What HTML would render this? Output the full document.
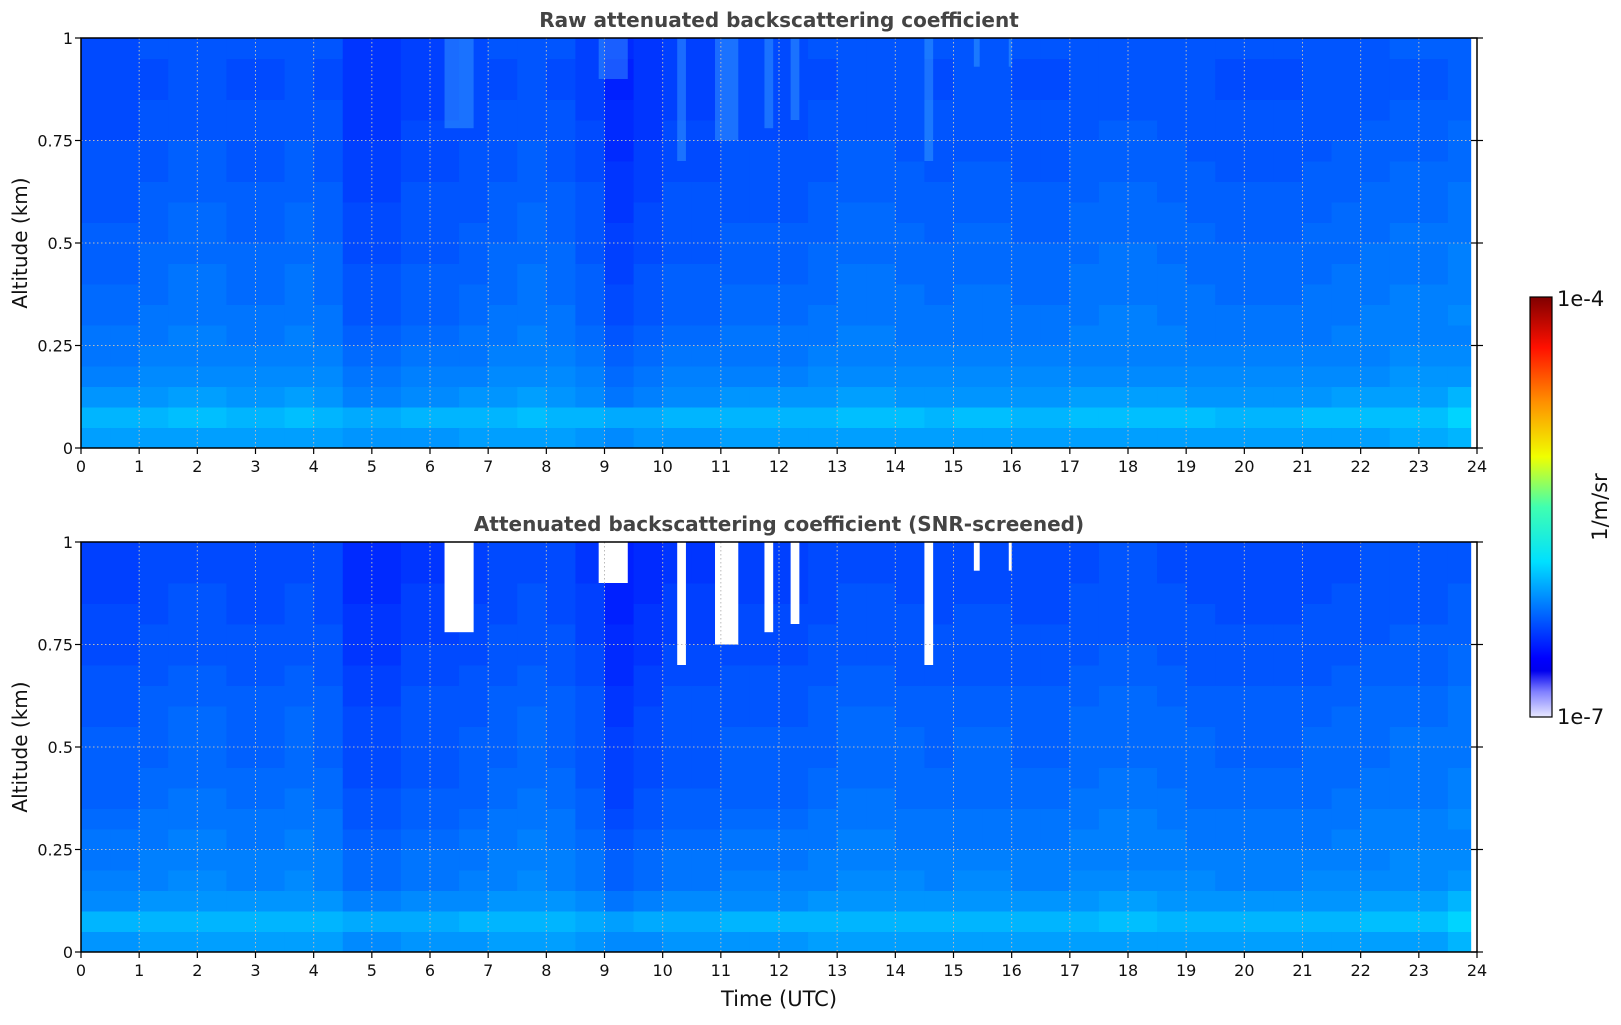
<!DOCTYPE html>
<html><head><meta charset="utf-8">
<style>
html,body{margin:0;padding:0;background:#fff;}
body{width:1621px;height:1020px;overflow:hidden;font-family:"Liberation Sans","DejaVu Sans",sans-serif;}
svg text{font-family:"DejaVu Sans","Liberation Sans",sans-serif;}
</style></head>
<body>
<svg id="fig" width="1621" height="1020" viewBox="0 0 1621 1020" xmlns="http://www.w3.org/2000/svg">
<defs>
<linearGradient id="cbgrad" x1="0" y1="1" x2="0" y2="0">
<stop offset="0" stop-color="#e8e8ff"/><stop offset="0.06" stop-color="#8080ff"/>
<stop offset="0.11" stop-color="#0000ee"/><stop offset="0.14" stop-color="#0000ff"/>
<stop offset="0.37" stop-color="#00e0ff"/><stop offset="0.5" stop-color="#40ffb0"/>
<stop offset="0.62" stop-color="#f0ff00"/><stop offset="0.75" stop-color="#ff9000"/>
<stop offset="0.88" stop-color="#ff1000"/><stop offset="1" stop-color="#800000"/>
</linearGradient>
</defs>
<g id="layer"></g>
</svg>
<script>
// ---- data ----
const hours = [0,1,2,3,4,5,6,7,8,9,10,11,12,13,14,15,16,17,18,19,20,21,22,23,24];
const altTicks = [0,0.25,0.5,0.75,1];
const altTickLabels = ["0","0.25","0.5","0.75","1"];
// log10 backscatter base profile, 20 altitude bins of 0.05 km (bottom -> top)
const profileRaw = [-6.16,-6.08,-6.18,-6.23,-6.26,-6.28,-6.29,-6.30,-6.31,-6.32,-6.33,-6.34,-6.35,-6.36,-6.37,-6.38,-6.39,-6.40,-6.40,-6.39];
const profileSnr = [-6.17,-6.09,-6.19,-6.24,-6.26,-6.28,-6.29,-6.31,-6.32,-6.33,-6.33,-6.34,-6.35,-6.37,-6.38,-6.39,-6.40,-6.41,-6.42,-6.42];
// half-hourly darkness of aerosol plumes (0..1)
const darkness = [0.5,0.5,0.4,0.3,0.3,0.4,0.4,0.3,0.4,0.8,0.8,0.6,0.6,0.5,0.4,0.3,0.4,0.6,1.0,0.8,0.6,0.6,0.5,0.5,0.5,0.4,0.3,0.3,0.35,0.4,0.35,0.35,0.4,0.4,0.3,0.25,0.25,0.3,0.35,0.4,0.4,0.4,0.35,0.3,0.25,0.2,0.2,0.1];
// cloud gaps: start hour, end hour, lowest altitude (km)
const gapStart = [6.25,8.9,10.25,10.9,11.75,12.2,14.5,15.35,15.95];
const gapEnd   = [6.75,9.4,10.4,11.3,11.9,12.35,14.65,15.45,16.0];
const gapLow   = [0.78,0.9,0.7,0.75,0.78,0.8,0.7,0.93,0.93];
const dataEnd = 23.9;
// ---- rendering ----
const NS="http://www.w3.org/2000/svg";
const layer=document.getElementById('layer');
const X0=81,X1=1477;
const panels=[{y0:38,y1:448,title:"Raw attenuated backscattering coefficient",prof:profileRaw,raw:true,name:'raw-panel'},
              {y0:542,y1:952,title:"Attenuated backscattering coefficient (SNR-screened)",prof:profileSnr,raw:false,name:'snr-panel'}];
function xs(h){return X0+(X1-X0)*h/24;}
function jet(v){let f=(v+7)/3;f=Math.round(f*96)/96;const c=t=>Math.max(0,Math.min(1,1.5-Math.abs(t)));
 return `rgb(${Math.round(255*c(4*f-3))},${Math.round(255*c(4*f-2))},${Math.round(255*c(4*f-1))})`;}
function mk(tag,attrs,parent){const e=document.createElementNS(NS,tag);for(const k in attrs)e.setAttribute(k,attrs[k]);(parent||layer).appendChild(e);return e;}
function wgt(a){return a>0.3?1:(a>0.1?0.75:0.5);}
panels.forEach(p=>{
 const g=mk('g',{});
 
 
 const ys=a=>p.y1-(p.y1-p.y0)*a;
 const nb=p.prof.length;
 darkness.forEach((d,i)=>{
  const h0=i*0.5,h1=Math.min(h0+0.5,dataEnd);
  for(let j=0;j<nb;j++){
   const a0=j/nb,a1=(j+1)/nb,am=(a0+a1)/2;
   let v=p.prof[j]-0.2*(d-0.4)*wgt(am);
   if(h0>=23.5&&j<3)v+=0.05;
   const r=mk('rect',{x:xs(h0),y:ys(a1),width:xs(h1)-xs(h0)+0.5,height:ys(a0)-ys(a1)+0.5,fill:jet(v)},g);
   
   
  }
 });
 gapStart.forEach((s,k)=>{
  const r=mk('rect',{x:xs(s),y:ys(1),width:xs(gapEnd[k])-xs(s),height:ys(gapLow[k])-ys(1),fill:p.raw?'#40b0ff':'#ffffff','fill-opacity':p.raw?0.4:1},g);
  
  
 });
 mk('rect',{x:xs(dataEnd),y:p.y0,width:X1-xs(dataEnd),height:p.y1-p.y0,fill:'#fff'},g);
 // grid
 hours.forEach(h=>{ if(h>0&&h<24) mk('line',{x1:xs(h),x2:xs(h),y1:p.y0,y2:p.y1,stroke:'#bbb','stroke-width':1,'stroke-dasharray':'1.5,2.5'},g);});
 altTicks.forEach(a=>{ if(a>0&&a<1) mk('line',{x1:X0,x2:X1,y1:ys(a),y2:ys(a),stroke:'#bbb','stroke-width':1,'stroke-dasharray':'1.5,2.5'},g);});
 mk('rect',{x:X0,y:p.y0,width:X1-X0,height:p.y1-p.y0,fill:'none',stroke:'#000','stroke-width':1.5},g);
 hours.forEach(h=>{
  mk('line',{x1:xs(h),x2:xs(h),y1:p.y1,y2:p.y1+6,stroke:'#000','stroke-width':1.2},g);
  const t=mk('text',{x:xs(h),y:p.y1+24,'font-size':16,'text-anchor':'middle',fill:'#111'},g);t.textContent=h;
  
  
 });
 altTicks.forEach((a,k)=>{
  mk('line',{x1:X0-6,x2:X0,y1:ys(a),y2:ys(a),stroke:'#000','stroke-width':1.2},g);
  mk('line',{x1:X1-6,x2:X1+6,y1:ys(a),y2:ys(a),stroke:'#000','stroke-width':1.2},g);
  const t=mk('text',{x:X0-8,y:ys(a)+6,'font-size':16,'text-anchor':'end',fill:'#111'},g);t.textContent=altTickLabels[k];
  
  
 });
 const yl=mk('text',{x:0,y:0,'font-size':20,'text-anchor':'middle',fill:'#111',transform:`translate(27,${(p.y0+p.y1)/2}) rotate(-90)`},g);yl.textContent="Altitude (km)";
 
 
 const tt=mk('text',{x:(X0+X1)/2,y:p.y0-11,'font-size':20,'font-weight':'bold','text-anchor':'middle',fill:'#444'},g);tt.textContent=p.title;
 
 
});
const xl=mk('text',{x:(X0+X1)/2,y:1006,'font-size':21,'text-anchor':'middle',fill:'#111'});xl.textContent="Time (UTC)";


const cb=mk('rect',{x:1530,y:297,width:22,height:420,fill:'url(#cbgrad)',stroke:'#000','stroke-width':1.2});


const c1=mk('text',{x:1557,y:306,'font-size':21,fill:'#111'});c1.textContent="1e-4";


const c2=mk('text',{x:1557,y:724,'font-size':21,fill:'#111'});c2.textContent="1e-7";


const cu=mk('text',{x:0,y:0,'font-size':21,'text-anchor':'middle',fill:'#111',transform:'translate(1607,507) rotate(-90)'});cu.textContent="1/m/sr";


</script>
</body></html>
